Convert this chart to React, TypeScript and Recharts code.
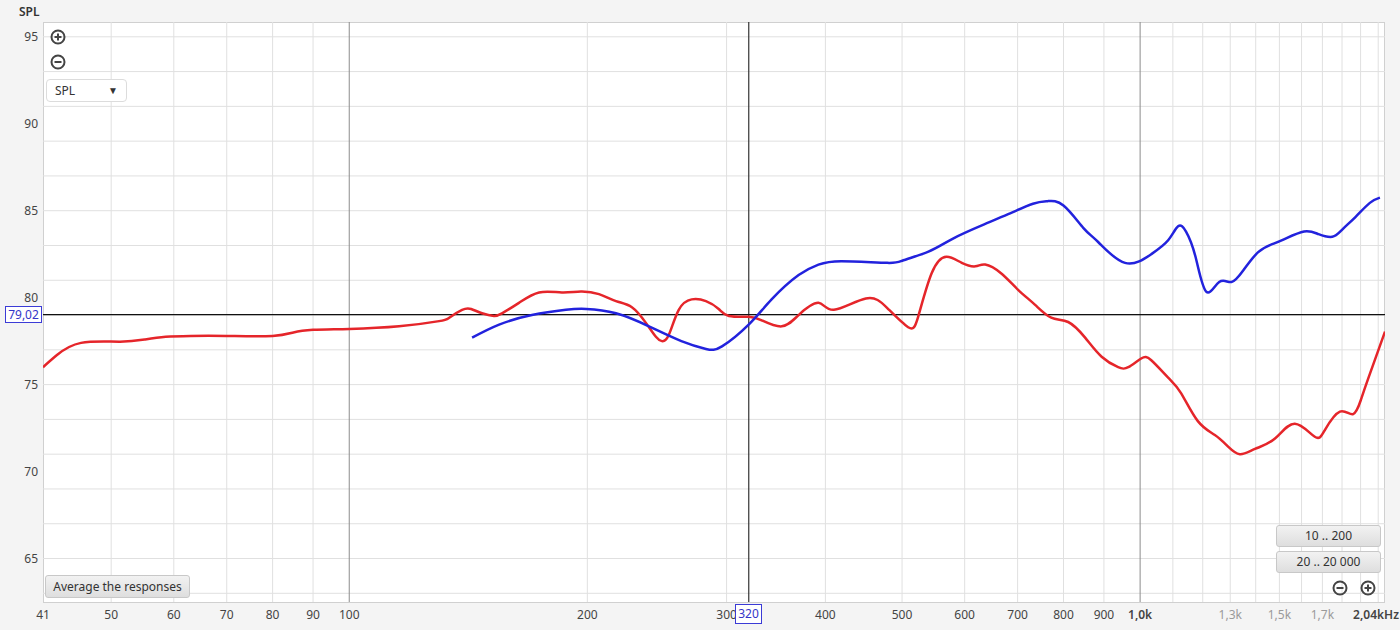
import { CartesianGrid, Line, LineChart, ReferenceLine, XAxis, YAxis } from "recharts";

// measurement 1 (red), Hz / dB SPL
const redFreq = [
  41, 42.7, 45.8, 51.3, 55.2, 58.6, 63, 70, 80, 85, 90, 100, 115.6, 129.9, 133.8, 138.9,
  142.6, 147.2, 152.4, 156, 163.9, 173.8, 185.7, 196.3, 206.9, 217.4, 227.7, 237.2, 244.2,
  248.5, 253.5, 261, 271, 282.5, 293.2, 302, 319.9, 332.3, 352.2, 370, 392, 410, 450, 479,
  509, 524, 545, 569, 595, 619, 637, 667, 701, 736, 772, 811, 852, 894, 938, 966, 1003,
  1033, 1085, 1127, 1183, 1243, 1291, 1337, 1397, 1481, 1569, 1663, 1713, 1789, 1858,
  1901, 1941, 2040,
];
const redSpl = [
  76.0, 76.7, 77.4, 77.47, 77.6, 77.75, 77.8, 77.8, 77.8, 78.0, 78.15, 78.2, 78.35, 78.65,
  78.85, 79.3, 79.35, 79.1, 78.95, 79.1, 79.7, 80.3, 80.3, 80.35, 80.2, 79.8, 79.45, 78.55,
  77.75, 77.5, 77.85, 79.3, 79.9, 79.8, 79.35, 78.95, 78.9, 78.7, 78.35, 79.0, 79.7, 79.3,
  79.95, 79.4, 78.3, 78.9, 81.4, 82.35, 82.0, 81.8, 81.9, 81.4, 80.45, 79.6, 78.85, 78.6,
  77.7, 76.6, 76.0, 76.0, 76.5, 76.4, 75.4, 74.5, 72.9, 72.1, 71.45, 71.0, 71.3, 71.9,
  72.75, 72.0, 72.4, 73.45, 73.3, 74.1, 75.3, 78.05,
];

// measurement 2 (blue)
const blueFreq = [
  143, 154.7, 170.2, 187.9, 199.3, 217.4, 239.3, 263, 282.5, 296, 319.9, 342, 370, 392,
  419, 479, 502, 540, 580, 634, 681, 732, 764, 800, 848, 885, 957, 1033, 1085, 1117, 1143,
  1175, 1212, 1259, 1305, 1352, 1409, 1464, 1520, 1612, 1681, 1750, 1800, 1873, 1952, 2010,
];
const blueSpl = [
  77.7, 78.45, 79.0, 79.3, 79.35, 79.1, 78.35, 77.5, 77.05, 77.2, 78.45, 79.9, 81.3, 81.9,
  82.1, 82.0, 82.15, 82.65, 83.4, 84.2, 84.8, 85.4, 85.55, 85.3, 84.0, 83.2, 82.0, 82.5, 83.3,
  84.1, 83.8, 82.35, 80.35, 80.9, 80.9, 81.6, 82.6, 83.05, 83.35, 83.8, 83.65, 83.5, 83.9,
  84.65, 85.45, 85.75,
];

const xTicks = [41, 50, 60, 70, 80, 90, 100, 200, 300, 400, 500, 600, 700, 800, 900, 1000, 1300, 1500, 1700, 2040];
const xTickLabels = ["41", "50", "60", "70", "80", "90", "100", "200", "300", "400", "500", "600", "700", "800", "900", "1,0k", "1,3k", "1,5k", "1,7k", "2,04kHz"];
const mutedTicks = [1300, 1500, 1700];
const yTicks = [65, 70, 75, 80, 85, 90, 95];

const yGrid = [63, 64, 65, 66, 67, 68, 69, 70, 71, 72, 73, 74, 75, 76, 77, 78, 79, 80, 81, 82, 83, 84, 85, 86, 87, 88, 89, 90, 91, 92, 93, 94, 95];
const xGrid = [50, 60, 70, 80, 90, 200, 300, 400, 500, 600, 700, 800, 900, 1100, 1200, 1300, 1400, 1500, 1600, 1700, 1800, 1900, 2000];
const xDecades = [100, 1000];

const cursorFreq = 320;
const cursorSpl = 79.02;

const redData = redFreq.map((f, i) => ({ f, spl: redSpl[i] }));
const blueData = blueFreq.map((f, i) => ({ f, spl: blueSpl[i] }));

const FONT = "'Noto Sans', 'Open Sans', sans-serif";

function XTick(props: any) {
  const { x, y, payload } = props;
  const i = xTicks.indexOf(payload.value);
  const muted = mutedTicks.includes(payload.value);
  const last = i === xTicks.length - 1;
  const strong = payload.value === 1000 || last;
  return (
    <text
      x={last ? 1399 : x}
      y={y}
      dy={9}
      textAnchor={last ? "end" : "middle"}
      fontSize={12}
      fontFamily={FONT}
      fontWeight={strong ? 600 : 400}
      fill={muted ? "#9a9a9a" : "#444"}
    >
      {xTickLabels[i]}
    </text>
  );
}

function YTick(props: any) {
  const { y, payload } = props;
  return (
    <text x={38} y={y} dy={4} textAnchor="end" fontSize={12} fontFamily={FONT} fill="#444">
      {payload.value}
    </text>
  );
}

function RoundIcon({ plus, left, top }: { plus: boolean; left: number; top: number }) {
  return (
    <svg width={16} height={16} style={{ position: "absolute", left, top }}>
      <circle cx={8} cy={8} r={6.5} fill="none" stroke="#444" strokeWidth={2} />
      <line x1={4.5} y1={8} x2={11.5} y2={8} stroke="#444" strokeWidth={2} />
      {plus && <line x1={8} y1={4.5} x2={8} y2={11.5} stroke="#444" strokeWidth={2} />}
    </svg>
  );
}

const btn: React.CSSProperties = {
  position: "absolute",
  background: "linear-gradient(#f2f2f2, #dedede)",
  border: "1px solid #c8c8c8",
  borderRadius: 3,
  fontFamily: FONT,
  fontSize: 12,
  color: "#333",
  textAlign: "center",
  boxSizing: "border-box",
};

export default function App() {
  return (
    <div
      style={{
        position: "absolute",
        left: 0,
        top: 0,
        width: 1400,
        height: 630,
        background: "#f4f4f4",
        overflow: "hidden",
        fontFamily: FONT,
      }}
    >
      <div
        style={{
          position: "absolute",
          left: 43,
          top: 22,
          width: 1342,
          height: 581,
          background: "#fff",
          border: "1px solid #d0d0d0",
          boxSizing: "border-box",
        }}
      />
      <div style={{ position: "absolute", left: 19, top: 3, fontSize: 12, fontWeight: 600, color: "#333" }}>
        SPL
      </div>
      <LineChart
        width={1400}
        height={630}
        margin={{ top: 22, right: 15, bottom: 0, left: 0 }}
        style={{ position: "absolute", left: 0, top: 0 }}
      >
        <CartesianGrid stroke="#e0e0e0" horizontalValues={yGrid} verticalValues={xGrid} />
        <XAxis
          dataKey="f"
          type="number"
          scale="log"
          domain={[41, 2040]}
          allowDataOverflow
          ticks={xTicks}
          interval={0}
          tick={<XTick />}
          tickLine={false}
          axisLine={false}
          height={28}
        />
        <YAxis
          type="number"
          domain={[62.5, 95.85]}
          allowDataOverflow
          ticks={yTicks}
          tick={<YTick />}
          tickLine={false}
          axisLine={false}
          width={43}
        />
        {xDecades.map((v) => (
          <ReferenceLine key={v} x={v} stroke="#8c8c8c" strokeWidth={1} />
        ))}
        <ReferenceLine x={cursorFreq} stroke="#333" strokeWidth={1.2} />
        <ReferenceLine y={cursorSpl} stroke="#111" strokeWidth={1.2} />
        <Line
          data={redData}
          dataKey="spl"
          type="natural"
          stroke="#e5252a"
          strokeWidth={2.5}
          dot={false}
          activeDot={false}
          isAnimationActive={false}
        />
        <Line
          data={blueData}
          dataKey="spl"
          type="natural"
          stroke="#2222dd"
          strokeWidth={2.5}
          dot={false}
          activeDot={false}
          isAnimationActive={false}
        />
      </LineChart>

      <RoundIcon plus left={50} top={29} />
      <RoundIcon plus={false} left={50} top={54} />
      <div
        style={{
          position: "absolute",
          left: 46,
          top: 79,
          width: 81,
          height: 23,
          background: "#fff",
          border: "1px solid #dcdcdc",
          borderRadius: 4,
          boxSizing: "border-box",
          fontSize: 12,
          color: "#333",
          lineHeight: "21px",
          paddingLeft: 8,
        }}
      >
        SPL
        <span style={{ position: "absolute", right: 8, top: 0, fontSize: 10 }}>▼</span>
      </div>

      <div style={{ ...btn, left: 45, top: 575, width: 145, height: 23, lineHeight: "21px" }}>
        Average the responses
      </div>
      <div style={{ ...btn, left: 1276, top: 525, width: 105, height: 22, lineHeight: "20px" }}>10 .. 200</div>
      <div style={{ ...btn, left: 1276, top: 551, width: 105, height: 22, lineHeight: "20px" }}>20 .. 20 000</div>
      <RoundIcon plus={false} left={1332} top={580} />
      <RoundIcon plus left={1360} top={580} />

      <div
        style={{
          position: "absolute",
          left: 5,
          top: 306,
          width: 37,
          height: 17,
          background: "#fff",
          border: "1px solid #3b3bd6",
          boxSizing: "border-box",
          color: "#3535c8",
          fontSize: 12,
          lineHeight: "15px",
          textAlign: "center",
        }}
      >
        79,02
      </div>
      <div
        style={{
          position: "absolute",
          left: 735,
          top: 604,
          width: 27,
          height: 20,
          background: "#fff",
          border: "1px solid #3b3bd6",
          boxSizing: "border-box",
          color: "#3535c8",
          fontSize: 12,
          lineHeight: "18px",
          textAlign: "center",
        }}
      >
        320
      </div>
    </div>
  );
}
